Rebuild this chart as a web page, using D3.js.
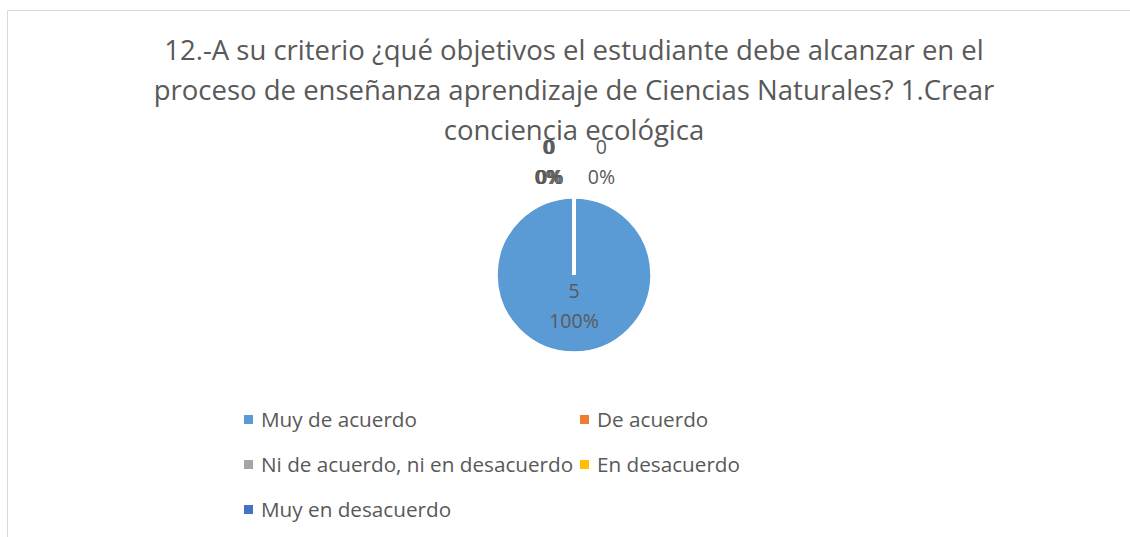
<!DOCTYPE html>
<html>
<head>
<meta charset="utf-8">
<script src="https://cdn.jsdelivr.net/npm/d3@7"></script>
<style>
  body { margin: 0; background: #fff; }
  text { font-family: "Open Sans", "Noto Sans", sans-serif; fill: #595959; }
</style>
</head>
<body>
<div id="chart"></div>
<script>
var titleLines = [
  "12.-A su criterio ¿qué objetivos el estudiante debe alcanzar en el",
  "proceso de enseñanza aprendizaje  de Ciencias Naturales? 1.Crear",
  "conciencia ecológica"
];
var categories = ["Muy de acuerdo", "De acuerdo", "Ni de acuerdo, ni en desacuerdo", "En desacuerdo", "Muy en desacuerdo"];
var values = [5, 0, 0, 0, 0];
var colors = ["#5b9bd5", "#ed7d31", "#a5a5a5", "#ffc000", "#4472c4"];

var svgWidth = 1130, svgHeight = 537;

var svg = d3.select("#chart")
  .append("svg")
  .attr("width", svgWidth)
  .attr("height", svgHeight);

// chart area border
svg.append("path")
  .attr("d", "M7.5,537 L7.5,10.5 L1130,10.5")
  .attr("fill", "none")
  .attr("stroke", "#d9d9d9")
  .attr("stroke-width", 1);

svg.selectAll(".title")
  .data(titleLines)
  .enter()
  .append("text")
  .attr("class", "title")
  .attr("x", 574)
  .attr("y", (d, i) => 60 + i * 40)
  .attr("text-anchor", "middle")
  .attr("font-size", "27.5px")
  .text(d => d);

var cx = 574, cy = 275, radius = 77;

var pie = d3.pie().sort(null).value(d => d);
var arc = d3.arc().innerRadius(0).outerRadius(radius);
var arcs = pie(values);

var pieGroup = svg.append("g")
  .attr("transform", `translate(${cx}, ${cy})`);

pieGroup.selectAll("path")
  .data(arcs)
  .enter()
  .append("path")
  .attr("d", arc)
  .attr("fill", (d, i) => colors[i])
  .attr("stroke", "#fff")
  .attr("stroke-width", 1.5);

// white separator where the empty slices sit
pieGroup.append("line")
  .attr("x1", 0).attr("y1", 0)
  .attr("x2", 0).attr("y2", -radius - 1)
  .attr("stroke", "#fff")
  .attr("stroke-width", 4);

// data labels
var total = d3.sum(values);

var labels = pieGroup.selectAll(".lbl")
  .data(arcs)
  .enter()
  .append("g")
  .attr("class", "lbl")
  .attr("transform", function(d, i) {
    if (d.data > 0) {
      return `translate(0, ${radius * 0.3})`;
    }
    var side = i < 4 ? -1 : 1;
    return `translate(${side * 25 + (i - 2) * 1.2}, ${-radius - 44})`;
  });

labels.append("text")
  .attr("text-anchor", "middle")
  .attr("font-size", "19.5px")
  .attr("y", 0)
  .text(d => d.data);

labels.append("text")
  .attr("text-anchor", "middle")
  .attr("font-size", "19.5px")
  .attr("y", 30)
  .text(d => Math.round(d.data / total * 100) + "%");

// legend
var legendCols = [244, 580];
var legend = svg.selectAll(".legend")
  .data(categories)
  .enter()
  .append("g")
  .attr("class", "legend")
  .attr("transform", (d, i) => `translate(${legendCols[i % 2]}, ${420 + Math.floor(i / 2) * 45})`);

legend.append("rect")
  .attr("x", 0)
  .attr("y", -5)
  .attr("width", 9)
  .attr("height", 9)
  .attr("fill", (d, i) => colors[i]);

legend.append("text")
  .attr("x", 17)
  .attr("y", 7)
  .attr("font-size", "20.7px")
  .text(d => d);
</script>
</body>
</html>
